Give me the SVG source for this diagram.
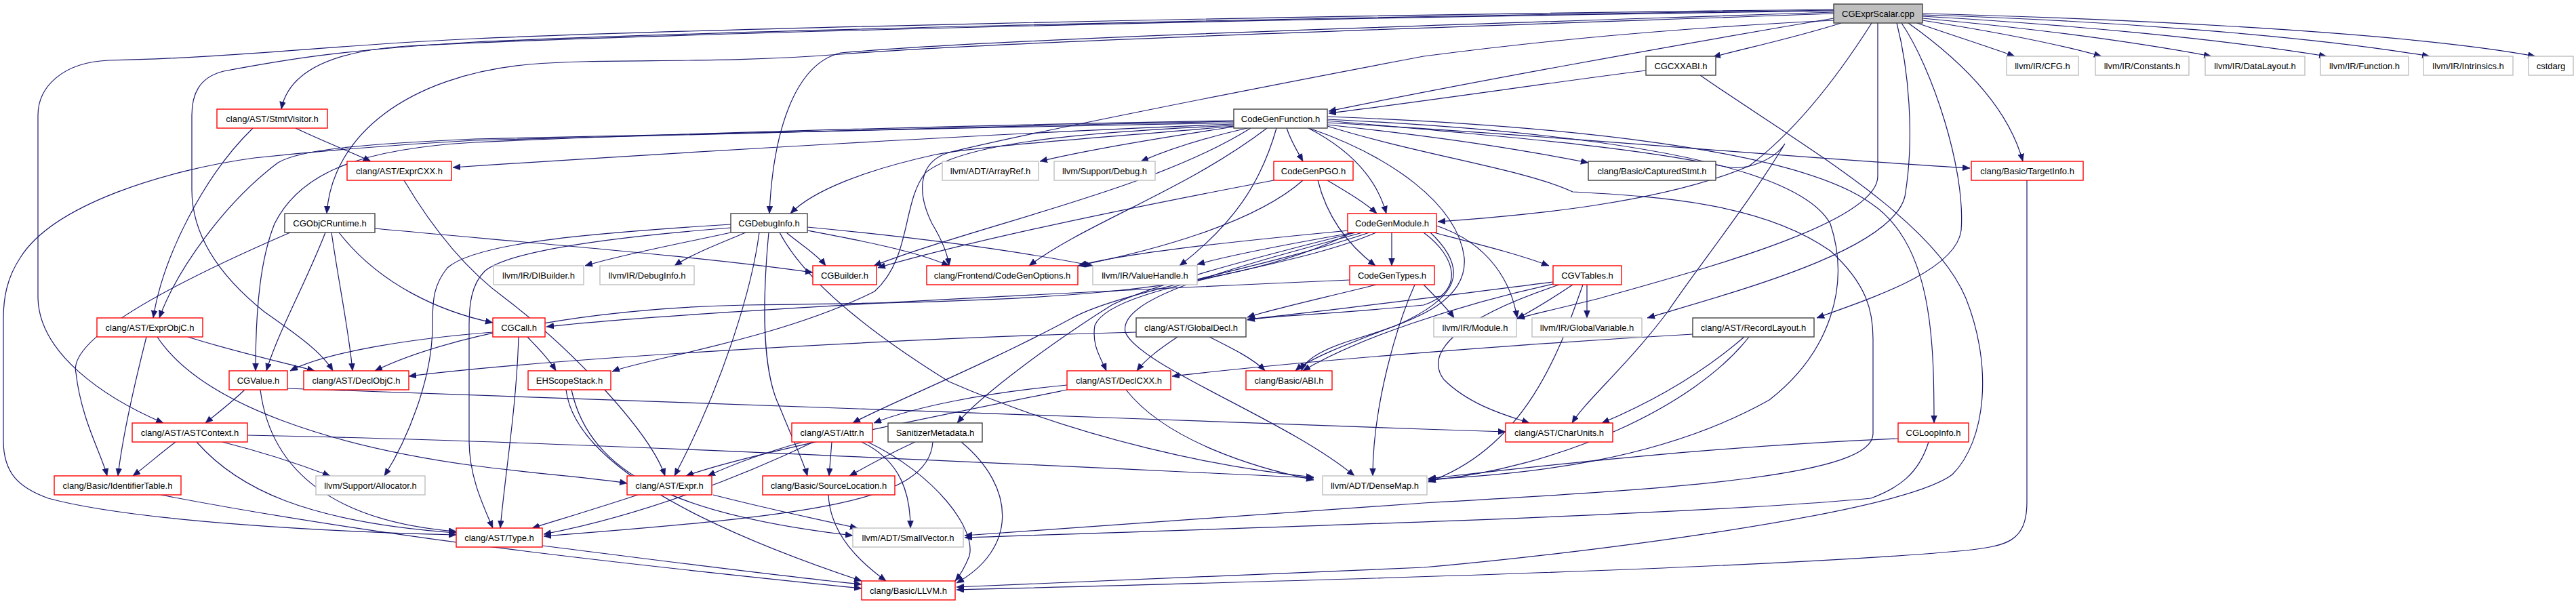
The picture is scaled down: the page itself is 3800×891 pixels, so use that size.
<svg xmlns="http://www.w3.org/2000/svg" width="3800" height="891" viewBox="0 0 3800 891">
<defs>
<style>
.nd rect{fill:#ffffff;stroke-width:1.4}
.red rect{stroke:#ff0000}
.gry rect{stroke:#bfbfbf}
.blk rect{stroke:#404040}
.root rect{fill:#bfbfbf;stroke:#404040}
.nd text{font-family:"Liberation Sans",Arial,sans-serif;font-size:13px;text-anchor:middle;fill:#000000}
#edges path{fill:none;stroke:#191970;stroke-width:1.2;marker-end:url(#ah)}
</style>
<marker id="ah" markerUnits="userSpaceOnUse" markerWidth="12" markerHeight="10" refX="11" refY="4.5" orient="auto"><path d="M0,0 L11,4.5 L0,9 z" fill="#191970" stroke="#191970" stroke-width="0.5"/></marker>
</defs>
<rect x="0" y="0" width="3800" height="891" fill="#ffffff"/>
<g id="edges">
<path d="M2705,27 C2450,70 2150,125 1960,164"/>
<path d="M2716,34 C2650,55 2580,70 2527,84"/>
<path d="M2828,34 C2880,52 2930,68 2972,83"/>
<path d="M2836,30 C2950,48 3040,66 3100,83"/>
<path d="M2836,27 C3000,42 3150,62 3262,83"/>
<path d="M2836,24 C3050,36 3280,58 3432,83"/>
<path d="M2836,22 C3100,30 3400,52 3584,83"/>
<path d="M2836,20 C3150,28 3550,48 3740,83"/>
<path d="M2815,34 C2880,80 2960,150 2984,238"/>
<path d="M2705,18 C2200,35 1500,55 1240,78 C1170,95 1140,200 1135,315"/>
<path d="M2705,20 C2200,38 1500,60 1240,80 C1050,95 900,85 780,95 C600,112 490,200 482,315"/>
<path d="M2705,16 C1800,28 900,52 600,68 C480,76 425,110 415,161"/>
<path d="M2705,14 C1800,24 1000,44 700,57 C500,66 330,86 160,89 C90,92 56,130 56,170 L56,440 C58,520 150,585 241,624"/>
<path d="M2705,15 C1800,27 1000,48 700,62 C500,74 420,88 330,105 C293,114 283,140 283,170 L283,280 C283,360 340,420 390,460 C440,495 475,520 491,547"/>
<path d="M2761,34 C2700,130 2640,200 2580,245 C2450,300 2250,318 2121,327"/>
<path d="M2705,30 C2400,45 2200,70 2100,83 C1800,140 1500,200 1400,225 C1350,240 1355,290 1375,330 C1390,355 1398,375 1400,392"/>
<path d="M2805,34 C2850,100 2900,250 2893,340 C2885,400 2760,440 2680,469"/>
<path d="M2798,34 C2815,100 2825,200 2810,290 C2790,370 2560,430 2430,469"/>
<path d="M2770,34 L2770,260 C2770,330 2500,400 2360,440 C2300,455 2265,462 2238,470"/>
<path d="M2428,104 C2300,120 2100,150 1960,167"/>
<path d="M2508,111 C2650,210 2850,320 2900,440 C2940,540 2930,650 2880,700 C2800,760 2300,820 2100,837 C1800,850 1550,862 1411,866"/>
<path d="M436,189 C480,210 520,225 547,238"/>
<path d="M373,189 C300,260 240,380 226,469"/>
<path d="M596,266 C640,340 690,400 745,440 C850,520 960,640 981,702"/>
<path d="M2990,266 L2990,740 C2990,800 2960,805 2900,812 C2600,840 1800,860 1411,870"/>
<path d="M1845,189 C1700,280 1450,330 1289,392"/>
<path d="M1822,186 C1600,205 1450,215 1380,228 C1280,250 1200,280 1166,315"/>
<path d="M1958,172 C2300,185 2650,220 2760,300 C2850,360 2853,500 2853,624"/>
<path d="M1820,178 C1400,185 900,200 700,210 C520,220 440,260 405,330 C385,380 377,450 377,547"/>
<path d="M1930,189 C1990,220 2030,260 2045,315"/>
<path d="M1898,189 C1905,210 1915,225 1922,238"/>
<path d="M1820,185 C1600,195 1420,210 1365,255 C1330,300 1345,380 1290,430 C1150,500 950,530 903,548"/>
<path d="M1869,189 C1750,280 1600,330 1518,392"/>
<path d="M1883,189 C1860,270 1820,330 1740,392"/>
<path d="M1820,187 C1700,205 1600,222 1534,238"/>
<path d="M1840,189 C1770,205 1720,222 1683,238"/>
<path d="M1958,184 C2150,205 2250,222 2343,240"/>
<path d="M1958,181 C2300,200 2600,230 2906,248"/>
<path d="M1820,183 C1500,195 1000,225 668,247"/>
<path d="M1820,181 C1400,190 800,200 700,205 C520,213 440,222 410,240 C330,300 260,400 235,469"/>
<path d="M1820,179 C1400,188 900,200 700,207 C550,215 450,225 375,233 C250,250 80,300 30,380 C10,410 5,440 5,470 L5,650 C5,700 30,720 71,735 C200,770 500,785 673,789"/>
<path d="M1958,186 C2100,230 2250,250 2320,283 C2450,290 2600,300 2700,370 C2755,420 2763,460 2763,500 L2763,640 C2763,700 2500,720 2100,742 C1800,765 1550,782 1423,790"/>
<path d="M1958,178 C2200,200 2400,215 2540,245 C2580,255 2620,232 2633,212 C2580,300 2500,400 2460,460 C2400,540 2340,590 2319,624"/>
<path d="M1958,176 C2350,195 2650,240 2700,330 C2730,420 2700,520 2610,590 C2450,680 2250,700 2107,707"/>
<path d="M1931,189 C2050,230 2150,300 2160,380 C2165,440 2100,470 2000,500 C1950,515 1925,530 1920,547"/>
<path d="M1958,266 C1990,285 2015,300 2031,315"/>
<path d="M1944,266 C1960,330 2000,370 2029,392"/>
<path d="M1879,266 C1700,300 1450,350 1295,395"/>
<path d="M1922,266 C1850,330 1700,370 1590,392"/>
<path d="M2053,343 L2053,392"/>
<path d="M2115,343 C2180,360 2240,375 2285,392"/>
<path d="M1998,343 C1900,360 1820,375 1766,390"/>
<path d="M1990,340 C1800,358 1650,375 1592,392"/>
<path d="M2000,343 C1850,380 1700,420 1640,450 C1560,500 1450,580 1412,624"/>
<path d="M2020,343 C1850,400 1650,430 1580,470 C1450,540 1300,600 1258,624"/>
<path d="M2030,343 C1900,400 1640,420 1615,480 C1610,510 1625,530 1632,547"/>
<path d="M1995,343 C1800,440 1500,445 1100,450 C850,455 650,500 553,547"/>
<path d="M2100,343 C2150,380 2160,430 2100,450 C1950,465 1880,465 1840,472"/>
<path d="M2110,343 C2170,400 2150,440 2060,480 C1980,510 1930,530 1911,547"/>
<path d="M2010,343 C1800,400 1650,440 1660,490 C1680,540 1900,620 1998,702"/>
<path d="M2119,333 C2200,360 2230,420 2238,469"/>
<path d="M1991,413 C1600,430 1000,460 806,482"/>
<path d="M2030,420 C1950,440 1880,455 1840,468"/>
<path d="M2087,420 C2060,480 2025,600 2025,702"/>
<path d="M2100,420 C2120,440 2135,455 2145,469"/>
<path d="M2341,420 L2341,469"/>
<path d="M2320,420 C2290,440 2260,458 2238,470"/>
<path d="M2291,416 C2100,440 1950,460 1840,471"/>
<path d="M2291,419 C2150,450 2000,500 1922,547"/>
<path d="M2335,420 C2300,520 2250,660 2107,711"/>
<path d="M2300,420 C2150,470 2100,520 2130,560 C2170,600 2230,615 2256,624"/>
<path d="M428,343 C250,420 100,500 112,550 C120,620 150,670 158,702"/>
<path d="M480,343 C450,420 410,490 393,547"/>
<path d="M489,343 C500,420 515,490 520,547"/>
<path d="M500,343 C560,420 650,460 727,476"/>
<path d="M553,337 C800,360 1050,380 1199,402"/>
<path d="M1078,343 C1000,360 920,375 863,392"/>
<path d="M1100,343 C1060,360 1020,375 995,392"/>
<path d="M1160,343 C1180,360 1205,375 1218,392"/>
<path d="M1191,340 C1270,355 1350,370 1400,392"/>
<path d="M1191,335 C1350,350 1500,370 1612,392"/>
<path d="M1078,331 C850,345 700,360 660,395 C640,420 638,440 638,480 C638,560 600,650 567,702"/>
<path d="M1078,336 C900,350 750,370 715,400 C695,420 692,450 692,480 L692,650 C692,700 710,740 727,779"/>
<path d="M1120,343 C1110,420 1070,560 995,702"/>
<path d="M1134,343 C1124,450 1125,550 1150,600 C1170,650 1185,680 1191,702"/>
<path d="M1150,343 C1180,400 1250,470 1400,563 C1600,650 1800,690 1938,704"/>
<path d="M727,490 C600,500 480,520 428,547"/>
<path d="M765,497 C762,600 745,700 738,779"/>
<path d="M778,497 C795,515 810,530 820,547"/>
<path d="M843,575 C870,700 1000,760 1258,790"/>
<path d="M835,575 C850,700 1100,800 1271,857"/>
<path d="M277,497 C350,520 420,535 464,547"/>
<path d="M216,497 C195,580 180,650 174,702"/>
<path d="M232,497 C300,600 500,660 700,687 C800,700 880,705 925,713"/>
<path d="M361,575 C340,595 320,610 303,624"/>
<path d="M384,575 C400,700 500,770 673,784"/>
<path d="M424,573 C800,590 1500,610 2100,633 C2150,635 2190,636 2221,637"/>
<path d="M1737,497 C1710,515 1690,530 1677,547"/>
<path d="M1784,497 C1820,515 1850,530 1866,547"/>
<path d="M1676,490 C1300,500 800,530 603,555"/>
<path d="M2497,493 C2200,510 1900,535 1729,555"/>
<path d="M2573,497 C2500,560 2420,600 2363,624"/>
<path d="M2580,497 C2500,600 2300,690 2107,709"/>
<path d="M1574,568 C1450,580 1350,600 1289,624"/>
<path d="M1574,575 C1350,620 1100,670 1012,702"/>
<path d="M1661,575 C1720,650 1850,690 1938,708"/>
<path d="M259,652 C235,670 215,688 196,702"/>
<path d="M328,652 C400,670 450,688 487,702"/>
<path d="M290,652 C350,720 450,770 673,786"/>
<path d="M365,642 C800,650 1400,680 1938,705"/>
<path d="M1184,652 C1120,670 1070,690 1044,702"/>
<path d="M1200,652 C1100,700 950,760 802,788"/>
<path d="M1227,652 L1223,702"/>
<path d="M1271,652 C1330,680 1343,730 1343,779"/>
<path d="M1280,652 C1380,700 1440,780 1430,820 C1422,840 1415,850 1409,857"/>
<path d="M1350,652 C1310,670 1275,690 1253,702"/>
<path d="M1376,652 C1370,740 1200,760 802,791"/>
<path d="M1418,652 C1500,720 1500,810 1411,860"/>
<path d="M1222,730 C1225,790 1270,830 1307,857"/>
<path d="M941,730 C880,750 830,765 785,779"/>
<path d="M1052,730 C1130,750 1200,765 1265,779"/>
<path d="M237,730 C600,800 1000,840 1271,868"/>
<path d="M800,805 C1000,830 1150,850 1271,862"/>
<path d="M2800,647 C2500,660 2250,690 2107,706"/>
<path d="M2845,652 C2830,700 2800,720 2760,735 C2500,760 1800,780 1423,793"/>
</g>
<g id="n_root" class="nd root"><rect x="2705" y="6" width="131" height="28"/><text x="2770.5" y="24.5">CGExprScalar.cpp</text></g>
<g id="n_cgcxxabi" class="nd blk"><rect x="2428" y="83" width="103" height="28"/><text x="2479.5" y="101.5">CGCXXABI.h</text></g>
<g id="n_cfg" class="nd gry"><rect x="2960" y="83" width="106" height="28"/><text x="3013" y="101.5">llvm/IR/CFG.h</text></g>
<g id="n_constants" class="nd gry"><rect x="3091" y="83" width="138" height="28"/><text x="3160" y="101.5">llvm/IR/Constants.h</text></g>
<g id="n_datalayout" class="nd gry"><rect x="3253" y="83" width="147" height="28"/><text x="3326.5" y="101.5">llvm/IR/DataLayout.h</text></g>
<g id="n_function" class="nd gry"><rect x="3423" y="83" width="130" height="28"/><text x="3488" y="101.5">llvm/IR/Function.h</text></g>
<g id="n_intrinsics" class="nd gry"><rect x="3575" y="83" width="132" height="28"/><text x="3641" y="101.5">llvm/IR/Intrinsics.h</text></g>
<g id="n_cstdarg" class="nd gry"><rect x="3730" y="83" width="66" height="28"/><text x="3763" y="101.5">cstdarg</text></g>
<g id="n_stmtvisitor" class="nd red"><rect x="320" y="161" width="163" height="28"/><text x="401.5" y="179.5">clang/AST/StmtVisitor.h</text></g>
<g id="n_codegenfunction" class="nd blk"><rect x="1820" y="161" width="138" height="28"/><text x="1889" y="179.5">CodeGenFunction.h</text></g>
<g id="n_exprcxx" class="nd red"><rect x="512" y="238" width="154" height="28"/><text x="589" y="256.5">clang/AST/ExprCXX.h</text></g>
<g id="n_arrayref" class="nd gry"><rect x="1390" y="238" width="142" height="28"/><text x="1461" y="256.5">llvm/ADT/ArrayRef.h</text></g>
<g id="n_debug" class="nd gry"><rect x="1555" y="238" width="149" height="28"/><text x="1629.5" y="256.5">llvm/Support/Debug.h</text></g>
<g id="n_codegenpgo" class="nd red"><rect x="1879" y="238" width="117" height="28"/><text x="1937.5" y="256.5">CodeGenPGO.h</text></g>
<g id="n_capturedstmt" class="nd blk"><rect x="2343" y="238" width="188" height="28"/><text x="2437" y="256.5">clang/Basic/CapturedStmt.h</text></g>
<g id="n_targetinfo" class="nd red"><rect x="2908" y="238" width="165" height="28"/><text x="2990.5" y="256.5">clang/Basic/TargetInfo.h</text></g>
<g id="n_cgobjcruntime" class="nd blk"><rect x="420" y="315" width="133" height="28"/><text x="486.5" y="333.5">CGObjCRuntime.h</text></g>
<g id="n_cgdebuginfo" class="nd blk"><rect x="1078" y="315" width="113" height="28"/><text x="1134.5" y="333.5">CGDebugInfo.h</text></g>
<g id="n_codegenmodule" class="nd red"><rect x="1988" y="315" width="131" height="28"/><text x="2053.5" y="333.5">CodeGenModule.h</text></g>
<g id="n_dibuilder" class="nd gry"><rect x="728" y="392" width="133" height="28"/><text x="794.5" y="410.5">llvm/IR/DIBuilder.h</text></g>
<g id="n_debuginfo" class="nd gry"><rect x="885" y="392" width="139" height="28"/><text x="954.5" y="410.5">llvm/IR/DebugInfo.h</text></g>
<g id="n_cgbuilder" class="nd red"><rect x="1199" y="392" width="94" height="28"/><text x="1246" y="410.5">CGBuilder.h</text></g>
<g id="n_codegenoptions" class="nd red"><rect x="1367" y="392" width="223" height="28"/><text x="1478.5" y="410.5">clang/Frontend/CodeGenOptions.h</text></g>
<g id="n_valuehandle" class="nd gry"><rect x="1612" y="392" width="154" height="28"/><text x="1689" y="410.5">llvm/IR/ValueHandle.h</text></g>
<g id="n_codegentypes" class="nd red"><rect x="1991" y="392" width="125" height="28"/><text x="2053.5" y="410.5">CodeGenTypes.h</text></g>
<g id="n_cgvtables" class="nd red"><rect x="2291" y="392" width="101" height="28"/><text x="2341.5" y="410.5">CGVTables.h</text></g>
<g id="n_exprobjc" class="nd red"><rect x="143" y="469" width="156" height="28"/><text x="221" y="487.5">clang/AST/ExprObjC.h</text></g>
<g id="n_cgcall" class="nd red"><rect x="727" y="469" width="77" height="28"/><text x="765.5" y="487.5">CGCall.h</text></g>
<g id="n_globaldecl" class="nd blk"><rect x="1676" y="469" width="162" height="28"/><text x="1757" y="487.5">clang/AST/GlobalDecl.h</text></g>
<g id="n_module" class="nd gry"><rect x="2115" y="469" width="122" height="28"/><text x="2176" y="487.5">llvm/IR/Module.h</text></g>
<g id="n_globalvariable" class="nd gry"><rect x="2260" y="469" width="162" height="28"/><text x="2341" y="487.5">llvm/IR/GlobalVariable.h</text></g>
<g id="n_recordlayout" class="nd blk"><rect x="2497" y="469" width="179" height="28"/><text x="2586.5" y="487.5">clang/AST/RecordLayout.h</text></g>
<g id="n_cgvalue" class="nd red"><rect x="338" y="547" width="86" height="28"/><text x="381" y="565.5">CGValue.h</text></g>
<g id="n_declobjc" class="nd red"><rect x="448" y="547" width="155" height="28"/><text x="525.5" y="565.5">clang/AST/DeclObjC.h</text></g>
<g id="n_ehscopestack" class="nd red"><rect x="779" y="547" width="122" height="28"/><text x="840" y="565.5">EHScopeStack.h</text></g>
<g id="n_declcxx" class="nd red"><rect x="1574" y="547" width="153" height="28"/><text x="1650.5" y="565.5">clang/AST/DeclCXX.h</text></g>
<g id="n_abi" class="nd red"><rect x="1838" y="547" width="127" height="28"/><text x="1901.5" y="565.5">clang/Basic/ABI.h</text></g>
<g id="n_astcontext" class="nd red"><rect x="195" y="624" width="170" height="28"/><text x="280" y="642.5">clang/AST/ASTContext.h</text></g>
<g id="n_attr" class="nd red"><rect x="1168" y="624" width="119" height="28"/><text x="1227.5" y="642.5">clang/AST/Attr.h</text></g>
<g id="n_sanitizermetadata" class="nd blk"><rect x="1310" y="624" width="139" height="28"/><text x="1379.5" y="642.5">SanitizerMetadata.h</text></g>
<g id="n_charunits" class="nd red"><rect x="2221" y="624" width="158" height="28"/><text x="2300" y="642.5">clang/AST/CharUnits.h</text></g>
<g id="n_cgloopinfo" class="nd red"><rect x="2800" y="624" width="104" height="28"/><text x="2852" y="642.5">CGLoopInfo.h</text></g>
<g id="n_identifiertable" class="nd red"><rect x="80" y="702" width="187" height="28"/><text x="173.5" y="720.5">clang/Basic/IdentifierTable.h</text></g>
<g id="n_allocator" class="nd gry"><rect x="466" y="702" width="161" height="28"/><text x="546.5" y="720.5">llvm/Support/Allocator.h</text></g>
<g id="n_expr" class="nd red"><rect x="925" y="702" width="125" height="28"/><text x="987.5" y="720.5">clang/AST/Expr.h</text></g>
<g id="n_sourcelocation" class="nd red"><rect x="1125" y="702" width="195" height="28"/><text x="1222.5" y="720.5">clang/Basic/SourceLocation.h</text></g>
<g id="n_densemap" class="nd gry"><rect x="1951" y="702" width="154" height="28"/><text x="2028" y="720.5">llvm/ADT/DenseMap.h</text></g>
<g id="n_type" class="nd red"><rect x="673" y="779" width="127" height="28"/><text x="736.5" y="797.5">clang/AST/Type.h</text></g>
<g id="n_smallvector" class="nd gry"><rect x="1258" y="779" width="163" height="28"/><text x="1339.5" y="797.5">llvm/ADT/SmallVector.h</text></g>
<g id="n_llvm" class="nd red"><rect x="1271" y="857" width="138" height="28"/><text x="1340" y="875.5">clang/Basic/LLVM.h</text></g>
</svg>
